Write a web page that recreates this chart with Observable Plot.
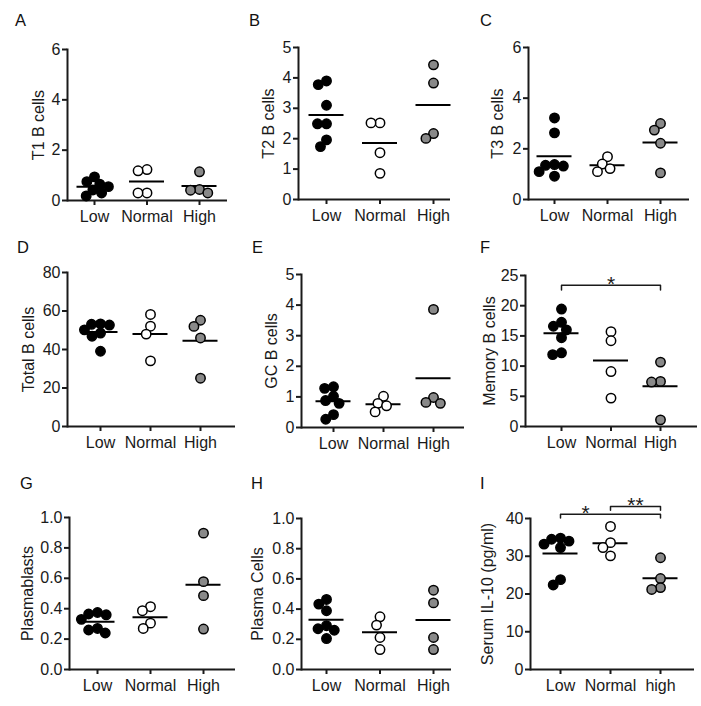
<!DOCTYPE html>
<html>
<head>
<meta charset="utf-8">
<script src="https://cdn.jsdelivr.net/npm/d3@7"></script>
<script src="https://cdn.jsdelivr.net/npm/@observablehq/plot@0.6"></script>
<style>
  body { margin: 0; background: #fff; }
  #root { position: relative; width: 701px; height: 706px; overflow: hidden;
          font-family: "Liberation Sans", Arial, sans-serif; color: #111; }
  .panel { position: absolute; }
  .letter { position: absolute; font-size: 16.5px; line-height: 16.5px; color: #111; }
</style>
</head>
<body>
<div id="root"></div>
<script>
// ---------- data ----------
const groups = ["Low", "Normal", "High"];
const groupsIL10 = ["Low", "Normal", "high"];
const groupFills = ["#000000", "#ffffff", "#898989"];

const panelLetters = ["A", "B", "C", "D", "E", "F", "G", "H", "I"];
const yLabels = ["T1 B cells", "T2 B cells", "T3 B cells", "Total B cells", "GC B cells",
                 "Memory B cells", "Plasmablasts", "Plasma Cells", "Serum IL-10 (pg/ml)"];

const t1BCells    = [[0.94, 0.75, 0.65, 0.55, 0.42, 0.30, 0.18], [1.23, 1.18, 0.30, 0.30], [1.14, 0.44, 0.41, 0.30]];
const t2BCells    = [[3.90, 3.78, 3.10, 2.49, 2.49, 1.96, 1.74], [2.52, 2.52, 1.54, 0.86], [4.43, 3.83, 2.17, 2.01]];
const t3BCells    = [[3.22, 2.63, 1.38, 1.35, 1.32, 1.10, 0.92], [1.69, 1.40, 1.22, 1.10], [3.00, 2.74, 2.22, 1.05]];
const totalBCells = [[53.3, 53.1, 52.7, 50.2, 48.5, 46.9, 39.1], [58.2, 52.1, 48.0, 34.1], [55.2, 52.0, 46.0, 25.1]];
const gcBCells    = [[1.33, 1.28, 1.02, 0.88, 0.79, 0.42, 0.27], [1.02, 0.79, 0.71, 0.51], [3.86, 0.98, 0.82, 0.79]];
const memoryBCells= [[19.45, 17.25, 16.6, 16.0, 14.7, 12.2, 11.9], [15.7, 14.2, 9.1, 4.7], [10.66, 7.47, 7.36, 1.1]];
const plasmablasts= [[0.375, 0.365, 0.36, 0.33, 0.27, 0.26, 0.24], [0.413, 0.387, 0.305, 0.27], [0.897, 0.578, 0.486, 0.266]];
const plasmaCells = [[0.464, 0.433, 0.389, 0.29, 0.27, 0.26, 0.205], [0.349, 0.294, 0.212, 0.132], [0.525, 0.441, 0.212, 0.132]];
const serumIL10   = [[34.8, 34.5, 34.0, 33.2, 32.3, 23.8, 22.4], [37.9, 33.6, 32.3, 30.1], [29.6, 24.1, 21.7, 21.2]];

const ticks6  = [0, 2, 4, 6];
const ticks5  = [0, 1, 2, 3, 4, 5];
const ticks80 = [0, 20, 40, 60, 80];
const ticks25 = [0, 5, 10, 15, 20, 25];
const ticks1  = [0, 0.2, 0.4, 0.6, 0.8, 1.0];
const ticks40 = [0, 10, 20, 30, 40];

// significance annotations: bracket from..to, star placed between starA..starB
const memorySig = [{from: "Low", to: "High", starA: "Low", starB: "High", text: "*"}];
const il10Sig = [
  {from: "Low", to: "high", starA: "Low", starB: "Normal", text: "*"},
  {from: "Normal", to: "high", starA: "Normal", starB: "high", text: "**"}
];

// ---------- layout ----------
const panels = [
  {values: t1BCells,     cats: groups, ticks: ticks6,  left: 0,   top: 0,   w: 234, h: 230, axisX: 67,  endX: 227, yTop: 49,  yZero: 200, lowX: 94,  highX: 199, labelOffset: 35, lx: 15,  ly: 14},
  {values: t2BCells,     cats: groups, ticks: ticks5,  left: 234, top: 0,   w: 234, h: 230, axisX: 298, endX: 450, yTop: 47,  yZero: 199, lowX: 326, highX: 433, labelOffset: 36, lx: 249, ly: 14},
  {values: t3BCells,     cats: groups, ticks: ticks6,  left: 467, top: 0,   w: 234, h: 230, axisX: 528, endX: 689, yTop: 47,  yZero: 199, lowX: 554, highX: 660, labelOffset: 37, lx: 480, ly: 14},
  {values: totalBCells,  cats: groups, ticks: ticks80, left: 0,   top: 230, w: 234, h: 230, axisX: 67,  endX: 235, yTop: 272, yZero: 426, lowX: 100, highX: 200, labelOffset: 45, lx: 17,  ly: 241},
  {values: gcBCells,     cats: groups, ticks: ticks5,  left: 234, top: 230, w: 234, h: 230, axisX: 301, endX: 464, yTop: 274, yZero: 427, lowX: 333, highX: 433, labelOffset: 36, lx: 252, ly: 241},
  {values: memoryBCells, cats: groups, ticks: ticks25, left: 467, top: 230, w: 234, h: 230, axisX: 525, endX: 697, yTop: 275, yZero: 426, lowX: 561, highX: 660, labelOffset: 42, lx: 480, ly: 241,
   sig: memorySig, sigLevels: [23.4], sigDrop: 0.8},
  {values: plasmablasts, cats: groups, ticks: ticks1,  left: 0,   top: 460, w: 234, h: 246, axisX: 69,  endX: 235, yTop: 517, yZero: 669, lowX: 97,  highX: 203, labelOffset: 48, lx: 20,  ly: 477, fmt: ".1f"},
  {values: plasmaCells,  cats: groups, ticks: ticks1,  left: 234, top: 460, w: 234, h: 246, axisX: 301, endX: 451, yTop: 518, yZero: 669, lowX: 326, highX: 433, labelOffset: 50, lx: 251, ly: 477, fmt: ".1f"},
  {values: serumIL10,    cats: groupsIL10, ticks: ticks40, left: 467, top: 460, w: 234, h: 246, axisX: 530, endX: 694, yTop: 518, yZero: 669, lowX: 560, highX: 660, labelOffset: 49, lx: 480, ly: 477,
   sig: il10Sig, sigLevels: [41.1, 43.2], sigDrop: 1.0}
];

const ink = "#1a1a1a";
const meanBarPx = 35;

// After dodgeX has spread a group's dots around the frame middle, move the swarm
// onto that group's position on the x scale.
function centerOnGroup(gi) {
  return function (data, facets, channels, scales, dimensions) {
    const mid = (dimensions.marginLeft + dimensions.width - dimensions.marginRight) / 2;
    const cx = scales.x(gi);
    const X = Array.from(channels.x.value, (x) => x - mid + cx);
    return {data, facets, channels: {x: {...channels.x, value: X}}};
  };
}

function drawPanel(p, k) {
  const cats = p.cats;
  const data = cats.flatMap((c, gi) => p.values[gi].map(v => ({gi, group: c, value: v})));
  const means = cats.map((c, gi) => ({gi, mean: d3.mean(p.values[gi])}));
  const step = (p.highX - p.lowX) / 2;
  const half = (meanBarPx / 2) / step;
  const L = p.left, T = p.top;
  const idx = c => cats.indexOf(c);

  const marks = [
    Plot.ruleY([0], {stroke: ink, strokeWidth: 2}),
    Plot.frame({anchor: "left", stroke: ink, strokeWidth: 2}),
    Plot.axisY({ticks: p.ticks, tickFormat: p.fmt ? d3.format(p.fmt) : d3.format("d"),
                tickSize: 5, tickPadding: 2, strokeWidth: 2, stroke: ink, fill: ink,
                label: yLabels[k], labelAnchor: "center", labelArrow: "none", labelOffset: p.labelOffset}),
    Plot.axisX({ticks: [0, 1, 2], tickFormat: i => cats[i], tickSize: 5, tickPadding: 5,
                strokeWidth: 2, stroke: ink, fill: ink, label: null}),
    Plot.ruleY(means, {y: "mean", x1: d => d.gi - half, x2: d => d.gi + half, stroke: "#000", strokeWidth: 2})
  ];

  cats.forEach((c, gi) => {
    const rows = data.filter(d => d.gi === gi);
    marks.push(Plot.dot(rows, Plot.initializer(
      Plot.dodgeX({anchor: "middle", padding: 0, r: 4.5},
        {y: "value", r: 4.7, fill: groupFills[gi], stroke: "#000", strokeWidth: 1.5}),
      centerOnGroup(gi))));
  });

  if (p.sig) {
    const pts = [];
    p.sig.forEach((s, j) => {
      const lv = p.sigLevels[j];
      pts.push({id: j, x: idx(s.from), y: lv - p.sigDrop});
      pts.push({id: j, x: idx(s.from), y: lv});
      pts.push({id: j, x: idx(s.to), y: lv});
      pts.push({id: j, x: idx(s.to), y: lv - p.sigDrop});
    });
    const labels = p.sig.map((s, j) => ({x: (idx(s.starA) + idx(s.starB)) / 2, y: p.sigLevels[j], text: s.text}));
    marks.push(
      Plot.line(pts, {x: "x", y: "y", z: "id", stroke: ink, strokeWidth: 1.5}),
      Plot.text(labels, {x: "x", y: "y", text: "text", dy: -1, lineAnchor: "middle", fontSize: 21, fill: ink})
    );
  }

  const svg = Plot.plot({
    width: p.w, height: p.h,
    marginLeft: p.axisX - L, marginRight: L + p.w - p.endX,
    marginTop: p.yTop - T, marginBottom: T + p.h - p.yZero,
    style: {fontFamily: '"Liberation Sans", Arial, sans-serif', fontSize: "16px", color: ink,
            background: "transparent", overflow: "visible"},
    x: {domain: [0, 2], range: [p.lowX - L, p.highX - L], axis: null},
    y: {domain: [0, p.ticks[p.ticks.length - 1]], axis: null},
    marks
  });

  const holder = document.createElement("div");
  holder.className = "panel";
  holder.style.left = L + "px";
  holder.style.top = T + "px";
  holder.appendChild(svg);
  root.appendChild(holder);

  const letter = document.createElement("div");
  letter.className = "letter";
  letter.textContent = panelLetters[k];
  letter.style.left = p.lx + "px";
  letter.style.top = (p.ly - 2.2) + "px";
  root.appendChild(letter);
}

const root = document.getElementById("root");
panels.forEach(drawPanel);
</script>
</body>
</html>
